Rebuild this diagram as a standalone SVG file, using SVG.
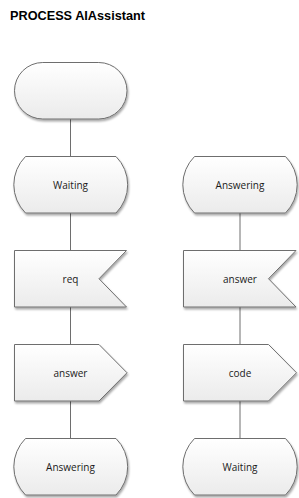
<svg xmlns="http://www.w3.org/2000/svg" width="299" height="498" viewBox="0 0 299 498">
<defs>
<linearGradient id="g" x1="0" y1="0" x2="0" y2="1">
<stop offset="0" stop-color="#ffffff"/>
<stop offset="1" stop-color="#ebebeb"/>
</linearGradient>
<filter id="sh" x="-10%" y="-10%" width="130%" height="130%">
<feGaussianBlur in="SourceAlpha" stdDeviation="0.8"/>
<feOffset dx="1" dy="1.5" result="b"/>
<feComponentTransfer><feFuncA type="linear" slope="0.35"/></feComponentTransfer>
<feMerge><feMergeNode/><feMergeNode in="SourceGraphic"/></feMerge>
</filter>
</defs>
<style>
.n{fill:url(#g);stroke:#6e6e6e;stroke-width:1;filter:url(#sh)}
.c{stroke:#6e6e6e;stroke-width:1;fill:none}
.t{font-family:"Segoe UI","Open Sans","Liberation Sans",sans-serif;font-size:10px;fill:#1a1a1a;text-anchor:middle}
.h{font-family:"Liberation Sans",Arial,sans-serif;font-size:13px;font-weight:bold;fill:#000}
</style>
<rect width="299" height="498" fill="#ffffff"/>
<text class="h" x="10" y="19.5" textLength="135" lengthAdjust="spacingAndGlyphs">PROCESS AIAssistant</text>
<g id="connectors">
<line class="c" x1="70.5" y1="119" x2="70.5" y2="156"/>
<line class="c" x1="70.5" y1="213" x2="70.5" y2="250"/>
<line class="c" x1="70.5" y1="307" x2="70.5" y2="344"/>
<line class="c" x1="70.5" y1="401" x2="70.5" y2="438"/>
<line class="c" x1="240" y1="213" x2="240" y2="250"/>
<line class="c" x1="240" y1="307" x2="240" y2="344"/>
<line class="c" x1="240" y1="401" x2="240" y2="438"/>
</g>
<g id="start">
<rect class="n" x="14.5" y="62.5" width="112.5" height="56.5" rx="28.25" ry="28.25"/>
</g>
<g id="waiting1">
<path class="n" d="M25.5,156.5 L116,156.5 A40 40 0 0 1 116,213 L25.5,213 A40 40 0 0 1 25.5,156.5 Z"/>
<text class="t" x="70.5" y="188.5">Waiting</text>
</g>
<g id="req">
<path class="n" d="M14.5,250.5 L126.5,250.5 L99,278.75 L126.5,307 L14.5,307 Z"/>
<text class="t" x="70.5" y="282.5">req</text>
</g>
<g id="answer1">
<path class="n" d="M14.5,344.5 L99,344.5 L127,372.75 L99,401 L14.5,401 Z"/>
<text class="t" x="70.5" y="376.5">answer</text>
</g>
<g id="answering1">
<path class="n" d="M25.5,438.5 L116,438.5 A40 40 0 0 1 116,495 L25.5,495 A40 40 0 0 1 25.5,438.5 Z"/>
<text class="t" x="70.5" y="470.5">Answering</text>
</g>
<g id="answering2">
<path class="n" d="M194.5,156.5 L285.5,156.5 A40 40 0 0 1 285.5,213 L194.5,213 A40 40 0 0 1 194.5,156.5 Z"/>
<text class="t" x="240" y="188.5">Answering</text>
</g>
<g id="answer2">
<path class="n" d="M183.5,250.5 L296,250.5 L268.5,278.75 L296,307 L183.5,307 Z"/>
<text class="t" x="240" y="282.5">answer</text>
</g>
<g id="code">
<path class="n" d="M183.5,344.5 L268.5,344.5 L296.5,372.75 L268.5,401 L183.5,401 Z"/>
<text class="t" x="240" y="376.5">code</text>
</g>
<g id="waiting2">
<path class="n" d="M194.5,438.5 L285.5,438.5 A40 40 0 0 1 285.5,495 L194.5,495 A40 40 0 0 1 194.5,438.5 Z"/>
<text class="t" x="240" y="470.5">Waiting</text>
</g>
</svg>
